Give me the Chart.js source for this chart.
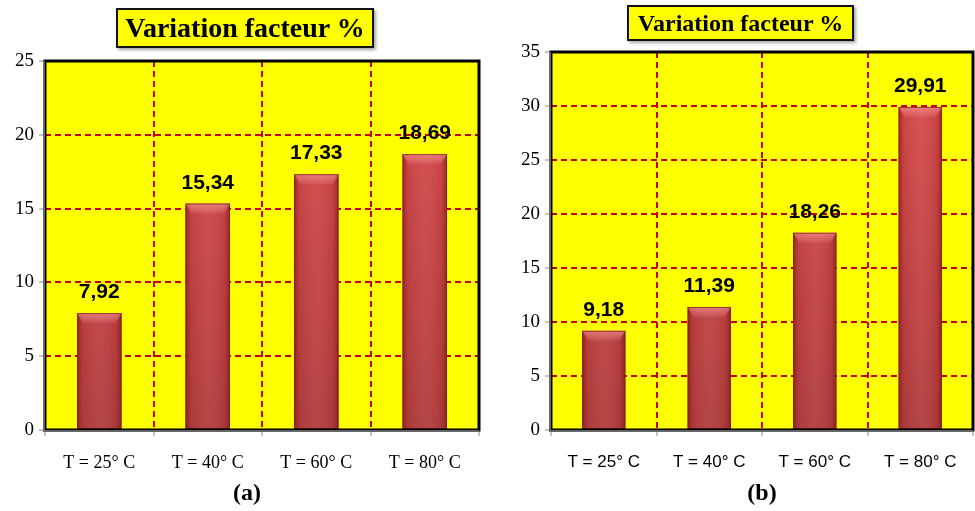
<!DOCTYPE html>
<html>
<head>
<meta charset="utf-8">
<script src="https://cdn.jsdelivr.net/npm/chart.js@4.4.1/dist/chart.umd.min.js"></script>
<style>
  html, body { margin: 0; padding: 0; background: #fff; }
  body { width: 975px; height: 511px; position: relative; overflow: hidden; }
  .panel { position: absolute; top: 0; height: 480px; }
  .title {
    position: absolute; background: #ffff00; border: 2px solid #111;
    box-shadow: 2px 2px 3px rgba(0,0,0,0.35);
    font-family: "Liberation Serif", "DejaVu Serif", serif; font-weight: bold;
    color: #000; text-align: center; white-space: nowrap; box-sizing: border-box;
  }
  .tag {
    position: absolute; font-family: "Liberation Serif", serif; font-weight: bold;
    font-size: 24px; color: #000; transform: translateX(-50%);
  }
</style>
</head>
<body>
<div class="panel" style="left:0;width:487px"><canvas id="chartA" width="487" height="480"></canvas></div>
<div class="panel" style="left:490px;width:485px"><canvas id="chartB" width="485" height="480"></canvas></div>

<div class="title" style="left:116px;top:8px;width:258px;height:40px;font-size:28px;line-height:36px">Variation facteur %</div>
<div class="title" style="left:627px;top:5px;width:227px;height:36px;font-size:24px;line-height:32px">Variation facteur %</div>
<div class="tag" style="left:247px;top:479px">(a)</div>
<div class="tag" style="left:762px;top:479px">(b)</div>

<script>
// Temperatures and measured variation factors (%)
const categoriesA = ['T = 25° C', 'T = 40° C', 'T = 60° C', 'T = 80° C'];
const valuesA = [7.92, 15.34, 17.33, 18.69];
const yMaxA = 25;

const categoriesB = ['T = 25° C', 'T = 40° C', 'T = 60° C', 'T = 80° C'];
const valuesB = [9.18, 11.39, 18.26, 29.91];
const yMaxB = 35;

const GRID_RED = '#c8001e';
const DASH = [6, 4];

// Yellow plot background, grey axis line and black frame
const framePlugin = {
  id: 'frame',
  beforeDraw(chart) {
    const { ctx, chartArea: a } = chart;
    ctx.save();
    ctx.fillStyle = '#ffff00';
    ctx.fillRect(a.left, a.top, a.right - a.left, a.bottom - a.top);
    ctx.restore();
  },
  afterDraw(chart) {
    const { ctx, chartArea: a } = chart;
    ctx.save();
    ctx.strokeStyle = '#000';
    ctx.lineWidth = 3;
    ctx.strokeRect(a.left, a.top, a.right - a.left, a.bottom - a.top);
    ctx.strokeStyle = '#666';
    ctx.lineWidth = 2;
    ctx.beginPath();
    ctx.moveTo(a.left - 1, a.top);
    ctx.lineTo(a.left - 1, a.bottom + 1);
    ctx.lineTo(a.right, a.bottom + 1);
    ctx.stroke();
    ctx.restore();
  }
};

// Rounded shading on each bar and value label above it
const barDecor = {
  id: 'barDecor',
  afterDatasetsDraw(chart) {
    const { ctx } = chart;
    const meta = chart.getDatasetMeta(0);
    const data = chart.data.datasets[0].data;
    meta.data.forEach((bar, i) => {
      const left = bar.x - bar.width / 2, right = bar.x + bar.width / 2;
      const top = bar.y, bottom = bar.base;
      const w = right - left;
      ctx.save();
      const g = ctx.createLinearGradient(left, 0, right, 0);
      g.addColorStop(0, 'rgba(110,15,15,0.55)');
      g.addColorStop(0.12, 'rgba(110,15,15,0.08)');
      g.addColorStop(0.5, 'rgba(255,255,255,0.05)');
      g.addColorStop(0.88, 'rgba(110,15,15,0.1)');
      g.addColorStop(1, 'rgba(110,15,15,0.55)');
      ctx.fillStyle = g;
      ctx.fillRect(left, top, w, bottom - top);
      // top bevel
      const cap = Math.min(10, bottom - top);
      ctx.beginPath();
      ctx.moveTo(left, top);
      ctx.lineTo(right, top);
      ctx.lineTo(right - 6, top + cap);
      ctx.lineTo(left + 6, top + cap);
      ctx.closePath();
      const gt = ctx.createLinearGradient(0, top, 0, top + cap);
      gt.addColorStop(0, 'rgba(255,160,160,0.6)');
      gt.addColorStop(1, 'rgba(255,160,160,0.1)');
      ctx.fillStyle = gt;
      ctx.fill();
      ctx.strokeStyle = 'rgba(130,25,25,0.7)';
      ctx.lineWidth = 1;
      ctx.strokeRect(left + 0.5, top + 0.5, w - 1, bottom - top - 1);
      // value label
      ctx.fillStyle = '#000';
      ctx.font = 'bold 21px "Liberation Sans", Arial, sans-serif';
      ctx.textAlign = 'center';
      ctx.textBaseline = 'alphabetic';
      ctx.fillText(data[i].toFixed(2).replace('.', ','), bar.x, top - 15);
      ctx.restore();
    });
  }
};

function barFill(ctx) {
  const a = ctx.chart.chartArea;
  if (!a) return '#c94343';
  const g = ctx.chart.ctx.createLinearGradient(0, a.top, 0, a.bottom);
  g.addColorStop(0, '#dc4c4c');
  g.addColorStop(1, '#b03c3c');
  return g;
}

function makeChart(id, labels, values, yMax, o) {
  const gridOpts = {
    color: GRID_RED, lineWidth: 2, tickColor: '#888', tickWidth: 1, tickLength: 6,
    borderDash: DASH, tickBorderDash: []
  };
  return new Chart(document.getElementById(id), {
    type: 'bar',
    data: {
      labels,
      datasets: [{
        data: values,
        backgroundColor: barFill,
        borderWidth: 0,
        categoryPercentage: 1,
        barPercentage: o.barPct
      }]
    },
    options: {
      responsive: false,
      animation: false,
      events: [],
      layout: { padding: { top: o.top, right: o.right, left: 0, bottom: 0 } },
      plugins: { legend: { display: false }, tooltip: { enabled: false }, title: { display: false } },
      scales: {
        x: {
          offset: true,
          grid: Object.assign({ offset: true }, gridOpts),
          border: { display: false, dash: () => DASH },
          ticks: { color: '#000', padding: 16, font: { family: o.xFont, size: o.xSize } },
          afterFit(s) { s.height = 50; }
        },
        y: {
          min: 0, max: yMax,
          ticks: { stepSize: 5, color: '#000', padding: 5, font: { family: '"Liberation Serif", serif', size: 19 } },
          grid: Object.assign({}, gridOpts),
          border: { display: false, dash: () => DASH },
          afterFit(s) { s.width = o.yWidth; }
        }
      }
    },
    plugins: [framePlugin, barDecor]
  });
}

makeChart('chartA', categoriesA, valuesA, yMaxA,
  { top: 61, right: 8, yWidth: 45, barPct: 0.41, xFont: '"Liberation Serif", serif', xSize: 18 });
makeChart('chartB', categoriesB, valuesB, yMaxB,
  { top: 52, right: 2, yWidth: 61, barPct: 0.41, xFont: '"Liberation Sans", Arial, sans-serif', xSize: 17 });
</script>
</body>
</html>
